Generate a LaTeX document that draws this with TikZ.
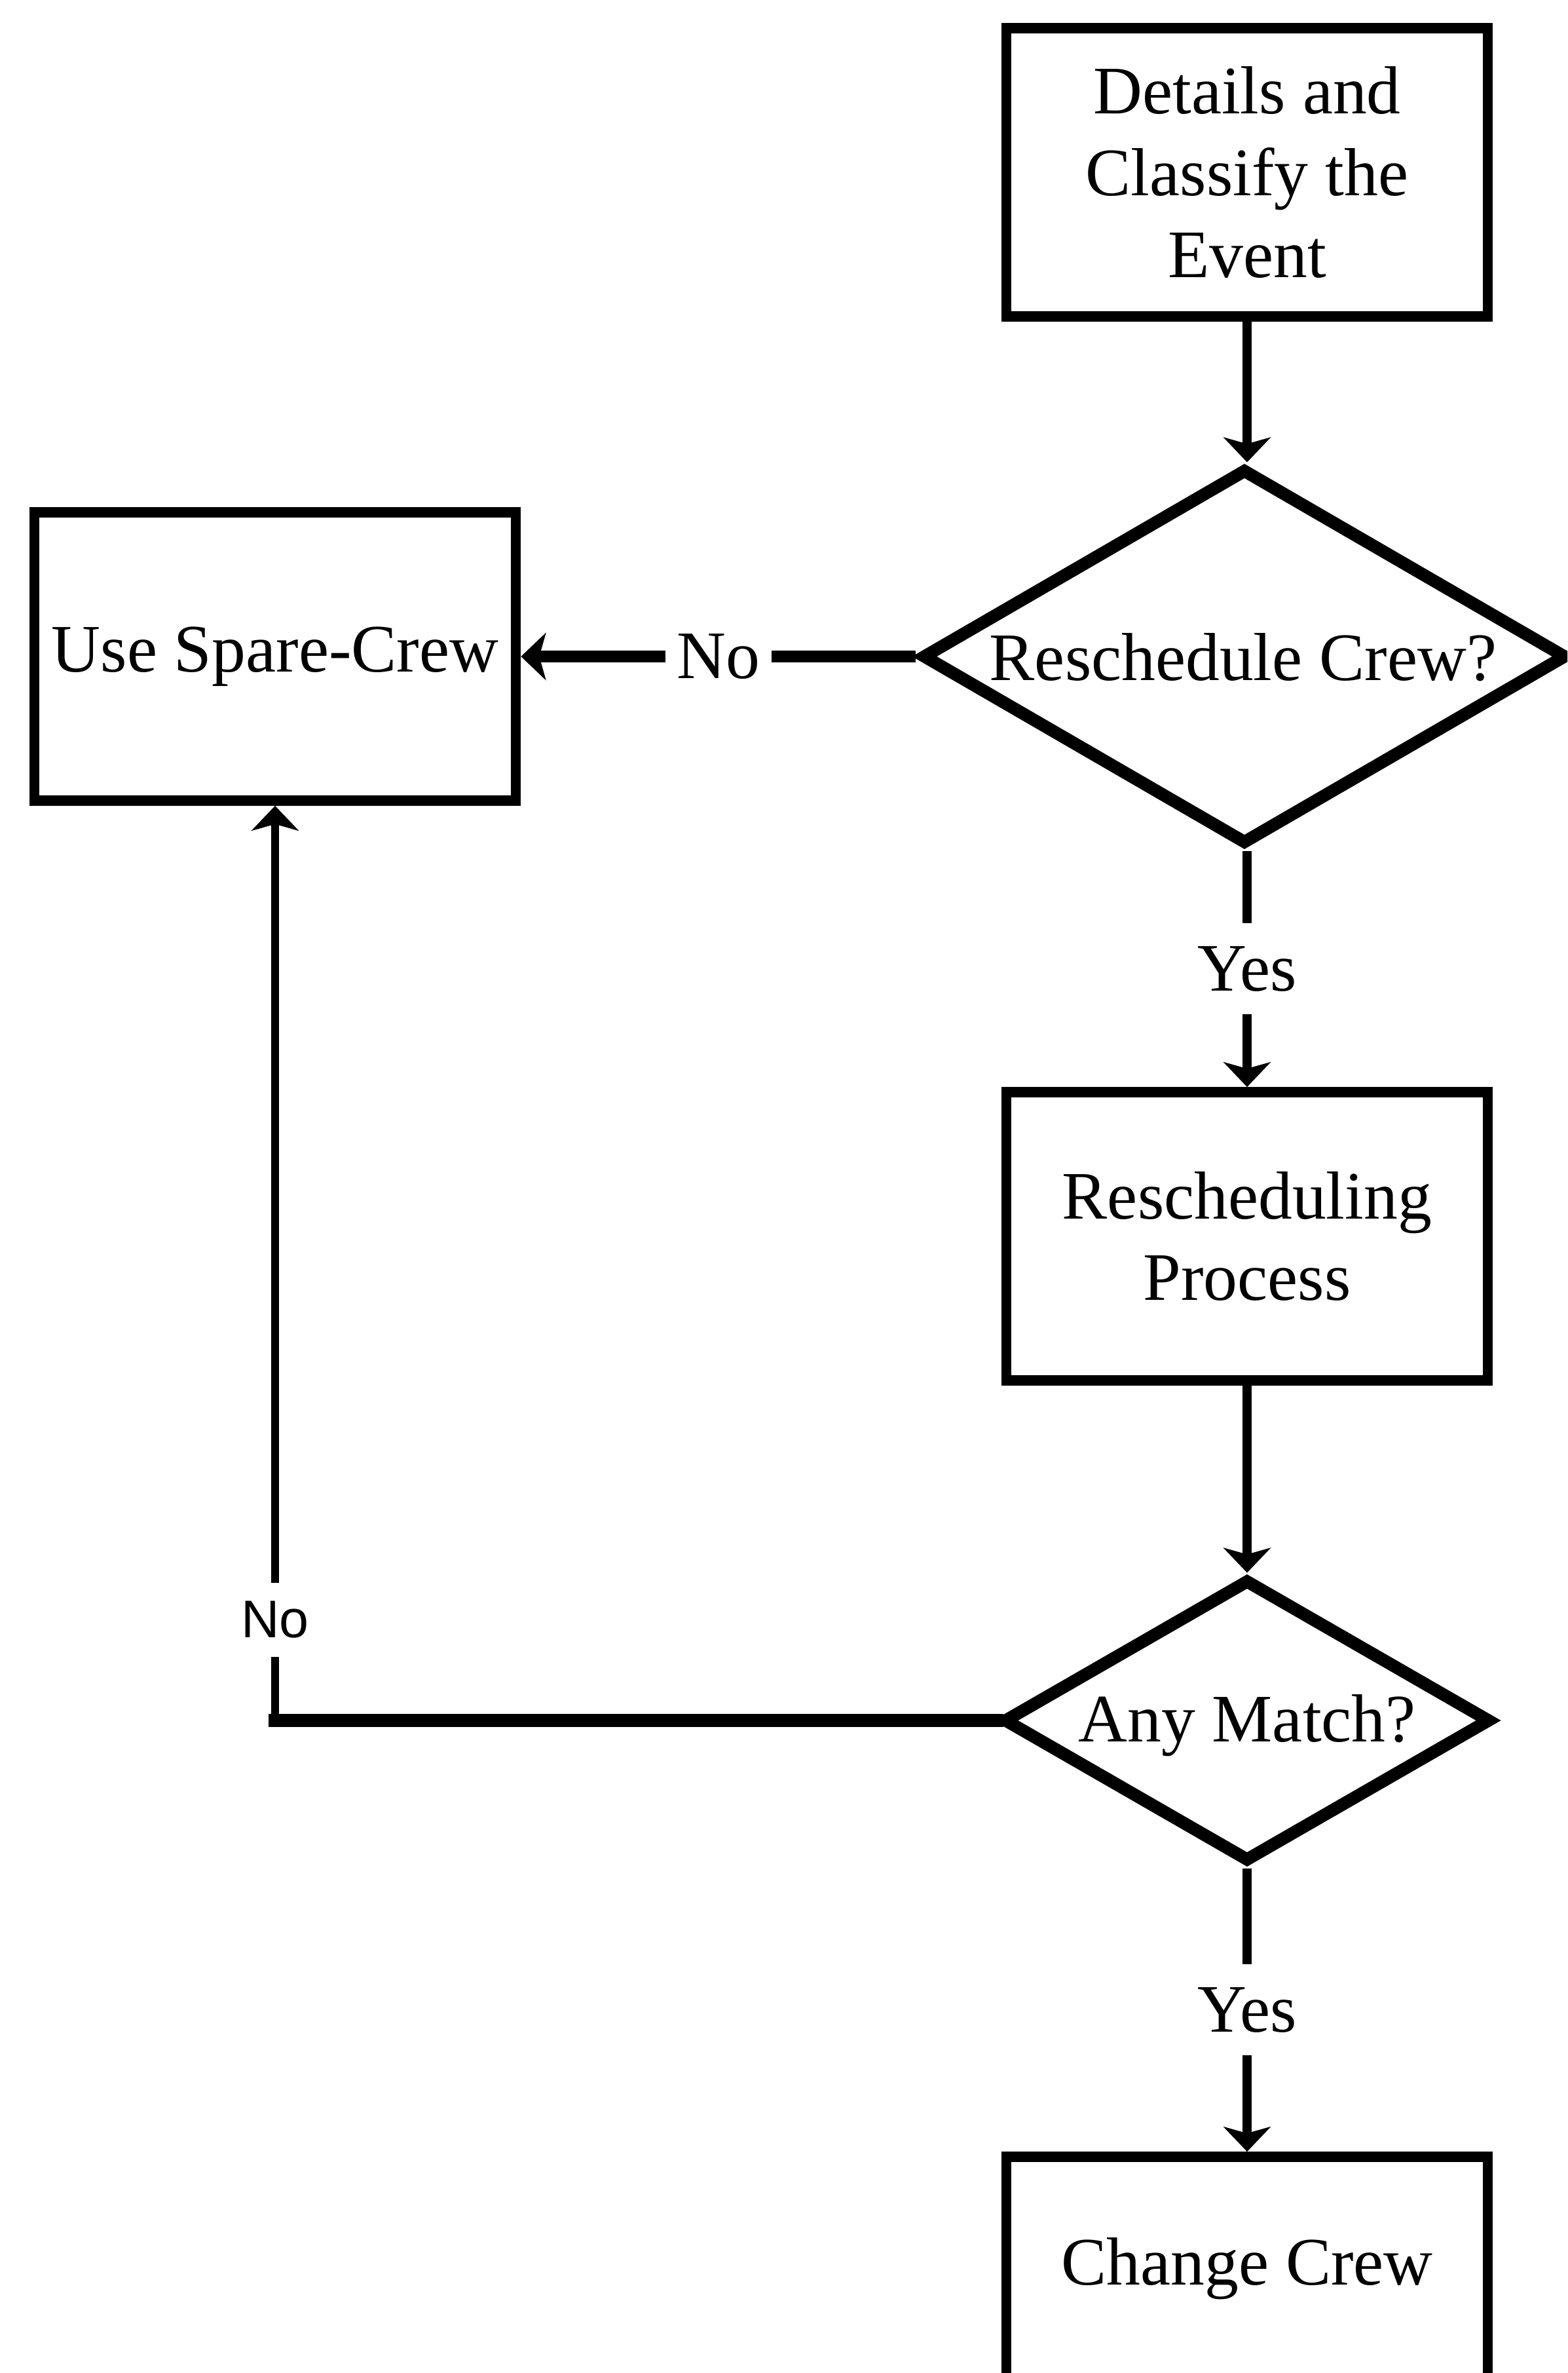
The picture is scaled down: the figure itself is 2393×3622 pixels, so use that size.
\documentclass[tikz,border=0pt]{standalone}
\usepackage{fontspec}
\setmainfont{Liberation Serif}
\newfontfamily\notesans{Liberation Sans}
\usetikzlibrary{shapes.geometric,arrows.meta}

\begin{document}
\begin{tikzpicture}[x=0.1mm, y=-0.1mm,
  every node/.style={font=\fontsize{29.5}{35.5}\selectfont},
  procbox/.style={draw, line width=4.5pt, minimum width=7.35cm,
    minimum height=4.4cm, align=center, inner sep=0pt},
  decision/.style={draw, diamond, line width=5.4pt, inner sep=0pt},
  flow/.style={line width=4.2pt,
    -{Stealth[length=3.8mm, width=7.2mm, inset=1mm]}},
  tag/.style={fill=white, inner xsep=5pt, inner ysep=10pt},
]
\useasboundingbox (0,0) rectangle (2393,3622);
\clip (0,0) rectangle (2393,3622);

% process steps and decisions
\node[procbox] (details) at (1904,263) {Details and\\Classify the\\Event};
\node[decision, minimum width=9.85cm, minimum height=5.74cm] (resched) at (1900,1002) {};
\node (reschedtxt) at (1898,1003) {Reschedule Crew?};
\node[procbox] (spare) at (420,1002) {Use Spare-Crew};
\node[procbox] (process) at (1904,1887) {Rescheduling\\Process};
\node[decision, minimum width=7.45cm, minimum height=4.32cm] (match) at (1904,2626) {};
\node (matchtxt) at (1904,2634) {Any Match?};
\node[procbox, minimum height=3.42cm] (change) at (1904,3463) {Change Crew};

% connectors
\draw[flow] (details) -- (details.south |- resched.north);
\draw[flow] (resched.south -| process.north) -- node[tag] (yes1) {Yes} (process);
\draw[flow, line width=5pt] (resched) -- node[tag] (no1) {No} (spare);
\draw[flow] (process) -- (match);
\draw[flow] (match) -- node[tag] (yes2) {Yes} (change);

% "No" branch of the match test loops back to the spare crew
\coordinate (bend) at (spare.south |- match.west);
\draw[line width=5.6pt, line cap=rect] (match.west) -- (bend);
\draw[flow, line width=3.6pt] (bend) -- node[pos=0.11, fill=white, inner xsep=5pt,
  inner ysep=8pt, font=\notesans\fontsize{23}{27}\selectfont] (no2) {No} (spare.south);
\end{tikzpicture}
\end{document}
